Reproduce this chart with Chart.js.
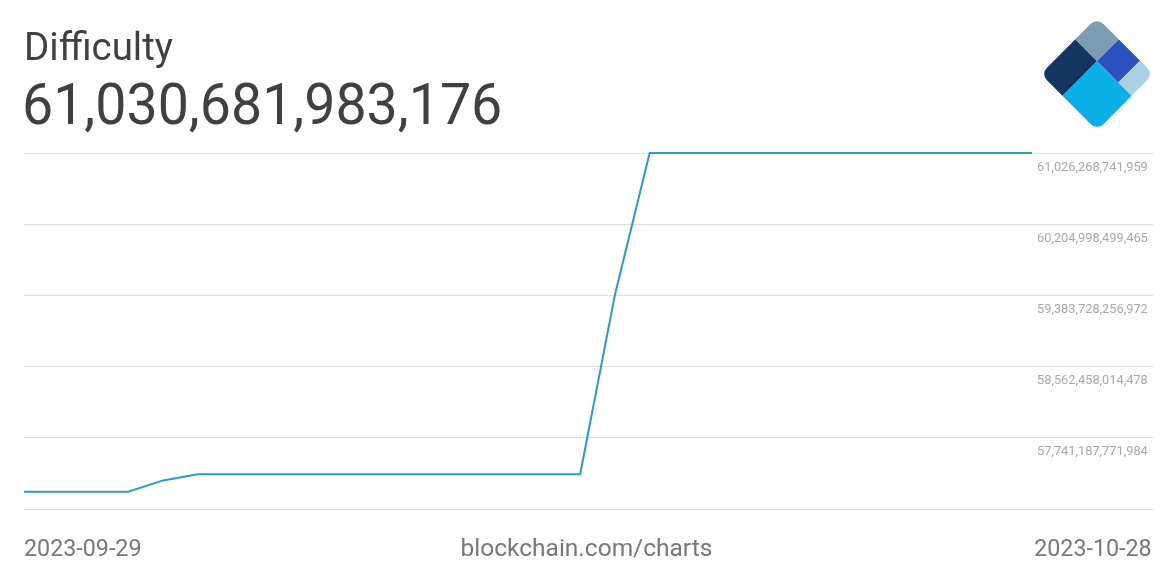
<!DOCTYPE html>
<html>
<head>
<meta charset="utf-8">
<script src="https://cdn.jsdelivr.net/npm/chart.js@4"></script>
<style>
  html, body { margin: 0; padding: 0; background: #fff; }
  body { width: 1173px; height: 579px; position: relative; overflow: hidden; font-family: Roboto, sans-serif; }
  #wrap { position: absolute; left: 0; top: 0; width: 1173px; height: 579px; }
  .title { position: absolute; left: 24px; top: 28px; font-size: 38.5px; color: #404040; line-height: 1; }
  .value { position: absolute; left: 22px; top: 76px; font-size: 57.5px; color: #404040; line-height: 1; transform: scaleX(0.965); transform-origin: left top; }
  .foot { position: absolute; top: 536px; font-size: 24.5px; color: #787878; line-height: 1; }
  .date { transform: scaleX(0.95); }
  #logo { position: absolute; left: 1037px; top: 14px; }
</style>
</head>
<body>
<div id="wrap"><canvas id="chart"></canvas></div>
<div class="title">Difficulty</div>
<div class="value" id="current"></div>
<div class="foot date" id="first" style="left:24px;transform-origin:left top"></div>
<div class="foot" style="left:0;width:1173px;text-align:center">blockchain.com/charts</div>
<div class="foot date" id="last" style="right:21px;transform-origin:right top"></div>
<svg id="logo" width="120" height="120">
  <defs>
    <clipPath id="round"><rect x="0" y="0" width="80" height="80" rx="9" ry="9"/></clipPath>
  </defs>
  <g transform="translate(60,60) rotate(45) translate(-40,-40)" clip-path="url(#round)">
    <rect x="0" y="0" width="31" height="31" fill="#7c9cb1"/>
    <rect x="0" y="31" width="31" height="49" fill="#12365f"/>
    <rect x="31" y="0" width="30" height="31" fill="#2c50be"/>
    <rect x="61" y="0" width="19" height="31" fill="#a9d2e5"/>
    <rect x="31" y="31" width="49" height="49" fill="#0aaee8"/>
  </g>
</svg>
<script>
// --- Data (daily average difficulty) ---
const dates = [
  '2023-09-29', '2023-09-30', '2023-10-01', '2023-10-02', '2023-10-03',
  '2023-10-04', '2023-10-05', '2023-10-06', '2023-10-07', '2023-10-08',
  '2023-10-09', '2023-10-10', '2023-10-11', '2023-10-12', '2023-10-13',
  '2023-10-14', '2023-10-15', '2023-10-16', '2023-10-17', '2023-10-18',
  '2023-10-19', '2023-10-20', '2023-10-21', '2023-10-22', '2023-10-23',
  '2023-10-24', '2023-10-25', '2023-10-26', '2023-10-27', '2023-10-28'
];
const difficulty = [
  57119871304635, 57119871304635, 57119871304635, 57119871304635, 57250000000000,
  57321508229258, 57321508229258, 57321508229258, 57321508229258, 57321508229258,
  57321508229258, 57321508229258, 57321508229258, 57321508229258, 57321508229258,
  57321508229258, 57321508229258, 59390000000000, 61030681983176, 61030681983176,
  61030681983176, 61030681983176, 61030681983176, 61030681983176, 61030681983176,
  61030681983176, 61030681983176, 61030681983176, 61030681983176, 61030681983176
];
const yTicks = [
  56919917529490, 57741187771984, 58562458014478,
  59383728256972, 60204998499465, 61026268741959
];
const currentValue = 61030681983176;

const fmt = v => Math.round(v).toLocaleString('en-US');
document.getElementById('current').textContent = fmt(currentValue);
document.getElementById('first').textContent = dates[0];
document.getElementById('last').textContent = dates[dates.length - 1];

// --- Chart ---
const ctx = document.getElementById('chart').getContext('2d');
new Chart(ctx, {
  type: 'line',
  data: {
    labels: dates,
    datasets: [{
      data: difficulty,
      borderColor: '#2b9bc6',
      borderWidth: 2,
      pointRadius: 0,
      tension: 0,
      fill: false,
      clip: false
    }]
  },
  options: {
    responsive: true,
    maintainAspectRatio: false,
    animation: false,
    layout: { padding: { left: 24, top: 153, bottom: 70, right: 0 } },
    plugins: { legend: { display: false }, tooltip: { enabled: false } },
    scales: {
      x: { display: false, offset: false },
      y: {
        position: 'right',
        min: yTicks[0],
        max: currentValue,
        afterBuildTicks: axis => { axis.ticks = yTicks.map(v => ({ value: v })); },
        afterFit: axis => { axis.width = 141; },
        border: { display: false },
        grid: { color: '#dcdcdc', lineWidth: 1, drawTicks: true, tickLength: 121 },
        ticks: {
          padding: -116,
          labelOffset: 14,
          color: '#a8a8a8',
          font: { family: 'Roboto', size: 12.8 },
          callback: (v, i) => i === 0 ? '' : fmt(v)
        }
      }
    }
  }
});
</script>
</body>
</html>
